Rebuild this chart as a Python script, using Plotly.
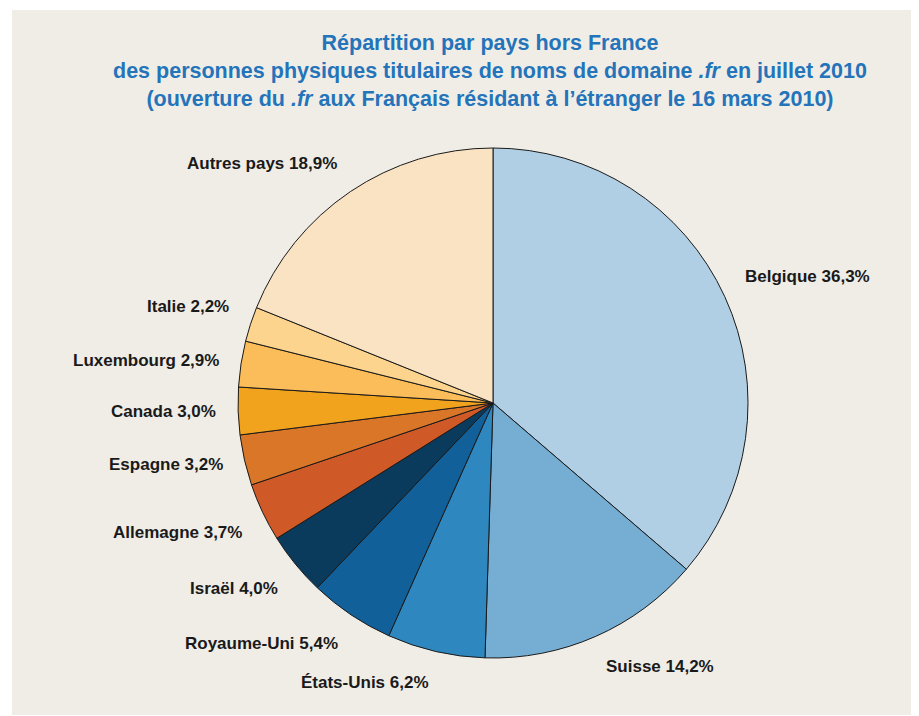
import math

import plotly.graph_objects as go

# données (juillet 2010)
pays = ["Belgique", "Suisse", "États-Unis", "Royaume-Uni", "Israël", "Allemagne",
        "Espagne", "Canada", "Luxembourg", "Italie", "Autres pays"]
parts = [36.3, 14.2, 6.2, 5.4, 4.0, 3.7, 3.2, 3.0, 2.9, 2.2, 18.9]
couleurs = ["#B0CFE4", "#76AED3", "#2E88BF", "#11609A", "#0A3A5C", "#D05A27",
            "#DA7628", "#F2A31E", "#FBBD5A", "#FDD48E", "#FAE3C3"]

W, H = 919, 716
OFF = 8  # marge du <body> dans la page
ML, MR, MT, MB = 12 - OFF, 0, 10 - OFF, 9
CX, CY, R = 493 - OFF, 403 - OFF, 255
BG = "#F0EDE7"
FONT = "Liberation Sans, Arial"


def to_paper(px, py):
    return (px - ML) / (W - ML - MR), 1 - (py - MT) / (H - MT - MB)


x0, y0 = to_paper(CX - R, CY + R)
x1, y1 = to_paper(CX + R, CY - R)

fig = go.Figure(go.Pie(
    labels=pays,
    values=parts,
    sort=False,
    direction="clockwise",
    rotation=0,
    marker=dict(colors=couleurs, line=dict(color="#1A1A1A", width=1)),
    textinfo="none",
    hoverinfo="label+percent",
    showlegend=False,
    domain=dict(x=[x0, x1], y=[y0, y1]),
))

# étiquettes à l'extérieur, placées selon l'angle médian de chaque part
total = sum(parts)
cum = 0.0
RL = R * 1.08
for nom, v in zip(pays, parts):
    a = (cum + v / 2) / total * 2 * math.pi
    cum += v
    s, c = math.sin(a), math.cos(a)
    px, py = to_paper(CX + RL * s, CY - RL * c)
    xa = "left" if s > 0.15 else "right" if s < -0.15 else "center"
    ya = "top" if c < -0.3 else "bottom" if c > 0.3 else "middle"
    fig.add_annotation(
        x=px, y=py, xref="paper", yref="paper", xanchor=xa, yanchor=ya,
        text=f"{nom} {v:.1f}%".replace(".", ","), showarrow=False,
        font=dict(family=FONT, size=17, color="#1A1A1A", weight="bold"),
    )

fig.add_shape(type="rect", xref="paper", yref="paper", x0=0, x1=1, y0=0, y1=1,
              fillcolor=BG, line_width=0, layer="below")

fig.update_layout(
    width=W, height=H,
    paper_bgcolor="white", plot_bgcolor=BG,
    margin=dict(l=ML, r=MR, t=MT, b=MB),
    title=dict(
        text="Répartition par pays hors France<br>"
             "des personnes physiques titulaires de noms de domaine <i>.fr</i> en juillet 2010<br>"
             "(ouverture du <i>.fr</i> aux Français résidant à l’étranger le 16 mars 2010)",
        x=(490 - OFF) / W, xanchor="center", xref="container",
        y=1 - (50 - OFF) / H, yanchor="middle", yref="container",
        font=dict(family=FONT, size=21.5, color="#2474BA", weight="bold"),
    ),
)

fig.write_html("out.html")
